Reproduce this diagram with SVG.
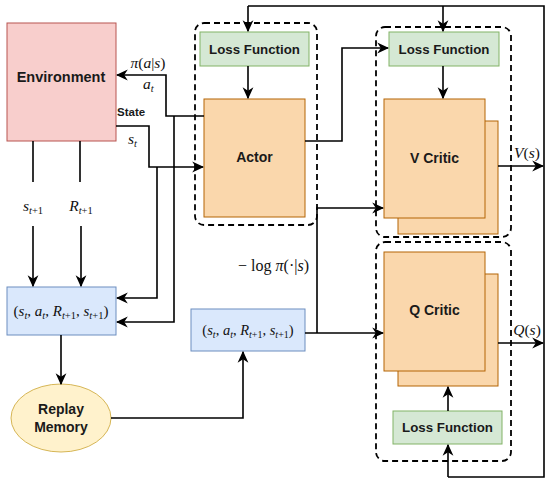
<svg xmlns="http://www.w3.org/2000/svg" width="550" height="483" viewBox="0 0 550 483">
<defs>
<marker id="ah" markerUnits="userSpaceOnUse" markerWidth="12" markerHeight="12" viewBox="0 0 10 10" refX="9" refY="5" orient="auto">
<path d="M0,0.5 L10,5 L0,9.5 L3,5 z" fill="#000"/>
</marker>
<style>
.ln{fill:none;stroke:#000;stroke-width:1.6}
.ar{fill:none;stroke:#000;stroke-width:1.6;marker-end:url(#ah)}
.grp{fill:none;stroke:#000;stroke-width:1.8;stroke-dasharray:6 4}
.lb{font-family:"Liberation Sans",Arial,sans-serif;font-weight:bold;fill:#1a1a1a}
.mt{font-family:"Liberation Serif","Times New Roman",serif;fill:#111}
.it{font-style:italic}
.loss{fill:#d5e8d4;stroke:#82b366;stroke-width:1}
.orn{fill:#fad7ac;stroke:#b46504;stroke-width:1}
.blu{fill:#dae8fc;stroke:#6c8ebf;stroke-width:1}
</style>
</defs>
<rect width="550" height="483" fill="#fff"/>

<g id="actor-group"><rect class="grp" x="195" y="23" width="122" height="202" rx="9"/></g>
<g id="v-group"><rect class="grp" x="376" y="27" width="135" height="210" rx="9"/></g>
<g id="q-group"><rect class="grp" x="376" y="242" width="135" height="219" rx="9"/></g>

<g id="environment">
<rect x="7" y="23" width="109" height="118" fill="#f8cecc" stroke="#b85450" stroke-width="1"/>
<text class="lb" x="61" y="82" font-size="14.5" text-anchor="middle">Environment</text>
</g>

<g id="buffer1">
<rect class="blu" x="7" y="287" width="109" height="48"/>
<text class="mt" x="61" y="316" font-size="15" text-anchor="middle">(<tspan class="it">s</tspan><tspan font-size="10.5" dy="3" class="it">t</tspan><tspan dy="-3">, </tspan><tspan class="it">a</tspan><tspan font-size="10.5" dy="3" class="it">t</tspan><tspan dy="-3">, </tspan><tspan class="it">R</tspan><tspan font-size="10.5" dy="3"><tspan class="it">t</tspan>+1</tspan><tspan dy="-3">, </tspan><tspan class="it">s</tspan><tspan font-size="10.5" dy="3"><tspan class="it">t</tspan>+1</tspan><tspan dy="-3">)</tspan></text>
</g>

<g id="replay-memory">
<ellipse cx="61" cy="418" rx="50" ry="34" fill="#fff2cc" stroke="#d6b656" stroke-width="1"/>
<text class="lb" x="61" y="414" font-size="14" text-anchor="middle">Replay</text>
<text class="lb" x="61" y="432" font-size="14" text-anchor="middle">Memory</text>
</g>

<g id="buffer2">
<rect class="blu" x="191" y="309" width="114" height="42"/>
<text class="mt" x="248" y="335" font-size="14.5" text-anchor="middle">(<tspan class="it">s</tspan><tspan font-size="10" dy="3" class="it">t</tspan><tspan dy="-3">, </tspan><tspan class="it">a</tspan><tspan font-size="10" dy="3" class="it">t</tspan><tspan dy="-3">, </tspan><tspan class="it">R</tspan><tspan font-size="10" dy="3"><tspan class="it">t</tspan>+1</tspan><tspan dy="-3">, </tspan><tspan class="it">s</tspan><tspan font-size="10" dy="3"><tspan class="it">t</tspan>+1</tspan><tspan dy="-3">)</tspan></text>
</g>

<g id="actor-loss">
<rect class="loss" x="200" y="32" width="109" height="34"/>
<text class="lb" x="254.5" y="54" font-size="13.3" text-anchor="middle">Loss Function</text>
</g>
<g id="actor">
<rect class="orn" x="204" y="99" width="101" height="118"/>
<text class="lb" x="254.5" y="162" font-size="14" text-anchor="middle">Actor</text>
</g>

<g id="v-loss">
<rect class="loss" x="389" y="32" width="110" height="34"/>
<text class="lb" x="444" y="54" font-size="13.3" text-anchor="middle">Loss Function</text>
</g>
<g id="v-critic">
<rect class="orn" x="398" y="121" width="100" height="113"/>
<rect class="orn" x="384" y="99" width="101" height="119"/>
<text class="lb" x="434.5" y="163" font-size="14" text-anchor="middle">V Critic</text>
</g>

<g id="q-critic">
<rect class="orn" x="398" y="274" width="100" height="112"/>
<rect class="orn" x="384" y="252" width="101" height="119"/>
<text class="lb" x="434.5" y="315" font-size="14" text-anchor="middle">Q Critic</text>
</g>
<g id="q-loss">
<rect class="loss" x="393" y="411" width="109" height="33"/>
<text class="lb" x="447.5" y="432" font-size="13.3" text-anchor="middle">Loss Function</text>
</g>

<g id="connectors">
<path class="ar" d="M204,116 H166 V75 H117"/>
<path class="ar" d="M174,116 V322 H117"/>
<path class="ar" d="M116,126 H149 V167 H203"/>
<path class="ar" d="M157,167 V298 H117"/>
<path class="ln" d="M33,141 V182 M80,141 V182"/>
<path class="ar" d="M33,226 V286"/>
<path class="ar" d="M81,226 V286"/>
<path class="ar" d="M61,335 V384"/>
<path class="ar" d="M111,418 H243 V352"/>
<path class="ar" d="M305,333 H383"/>
<path class="ar" d="M317,333 V208 H383"/>
<path class="ar" d="M248,66 V98"/>
<path class="ar" d="M443,66 V98"/>
<path class="ar" d="M305,141 H342 V48 H388"/>
<path class="ar" d="M248,6 V31"/>
<path class="ar" d="M443,6 V31"/>
<path class="ln" d="M248,6 H544 V477 H448"/>
<path class="ar" d="M448,477 V445"/>
<path class="ar" d="M448,411 V387"/>
<path class="ar" d="M498,166 H543"/>
<path class="ar" d="M498,343 H543"/>
</g>

<g id="labels">
<text class="mt" x="148" y="68" font-size="15.5" text-anchor="middle"><tspan class="it">π</tspan>(<tspan class="it">a</tspan>|<tspan class="it">s</tspan>)</text>
<text class="mt it" x="143" y="89" font-size="15.5">a<tspan font-size="10.5" dy="3">t</tspan></text>
<text class="lb" x="117" y="116" font-size="11.5">State</text>
<text class="mt it" x="128" y="144" font-size="15.5">s<tspan font-size="10.5" dy="3">t</tspan></text>
<text class="mt" x="33" y="211" font-size="15.5" text-anchor="middle"><tspan class="it">s</tspan><tspan font-size="10.5" dy="3"><tspan class="it">t</tspan>+1</tspan></text>
<text class="mt" x="81" y="211" font-size="15.5" text-anchor="middle"><tspan class="it">R</tspan><tspan font-size="10.5" dy="3"><tspan class="it">t</tspan>+1</tspan></text>
<text class="mt" x="309" y="271" font-size="16" text-anchor="end">− log <tspan class="it">π</tspan>(·|<tspan class="it">s</tspan>)</text>
<text class="mt" x="527" y="158" font-size="15.5" text-anchor="middle"><tspan class="it">V</tspan>(<tspan class="it">s</tspan>)</text>
<text class="mt" x="527" y="335" font-size="15.5" text-anchor="middle"><tspan class="it">Q</tspan>(<tspan class="it">s</tspan>)</text>
</g>
</svg>
